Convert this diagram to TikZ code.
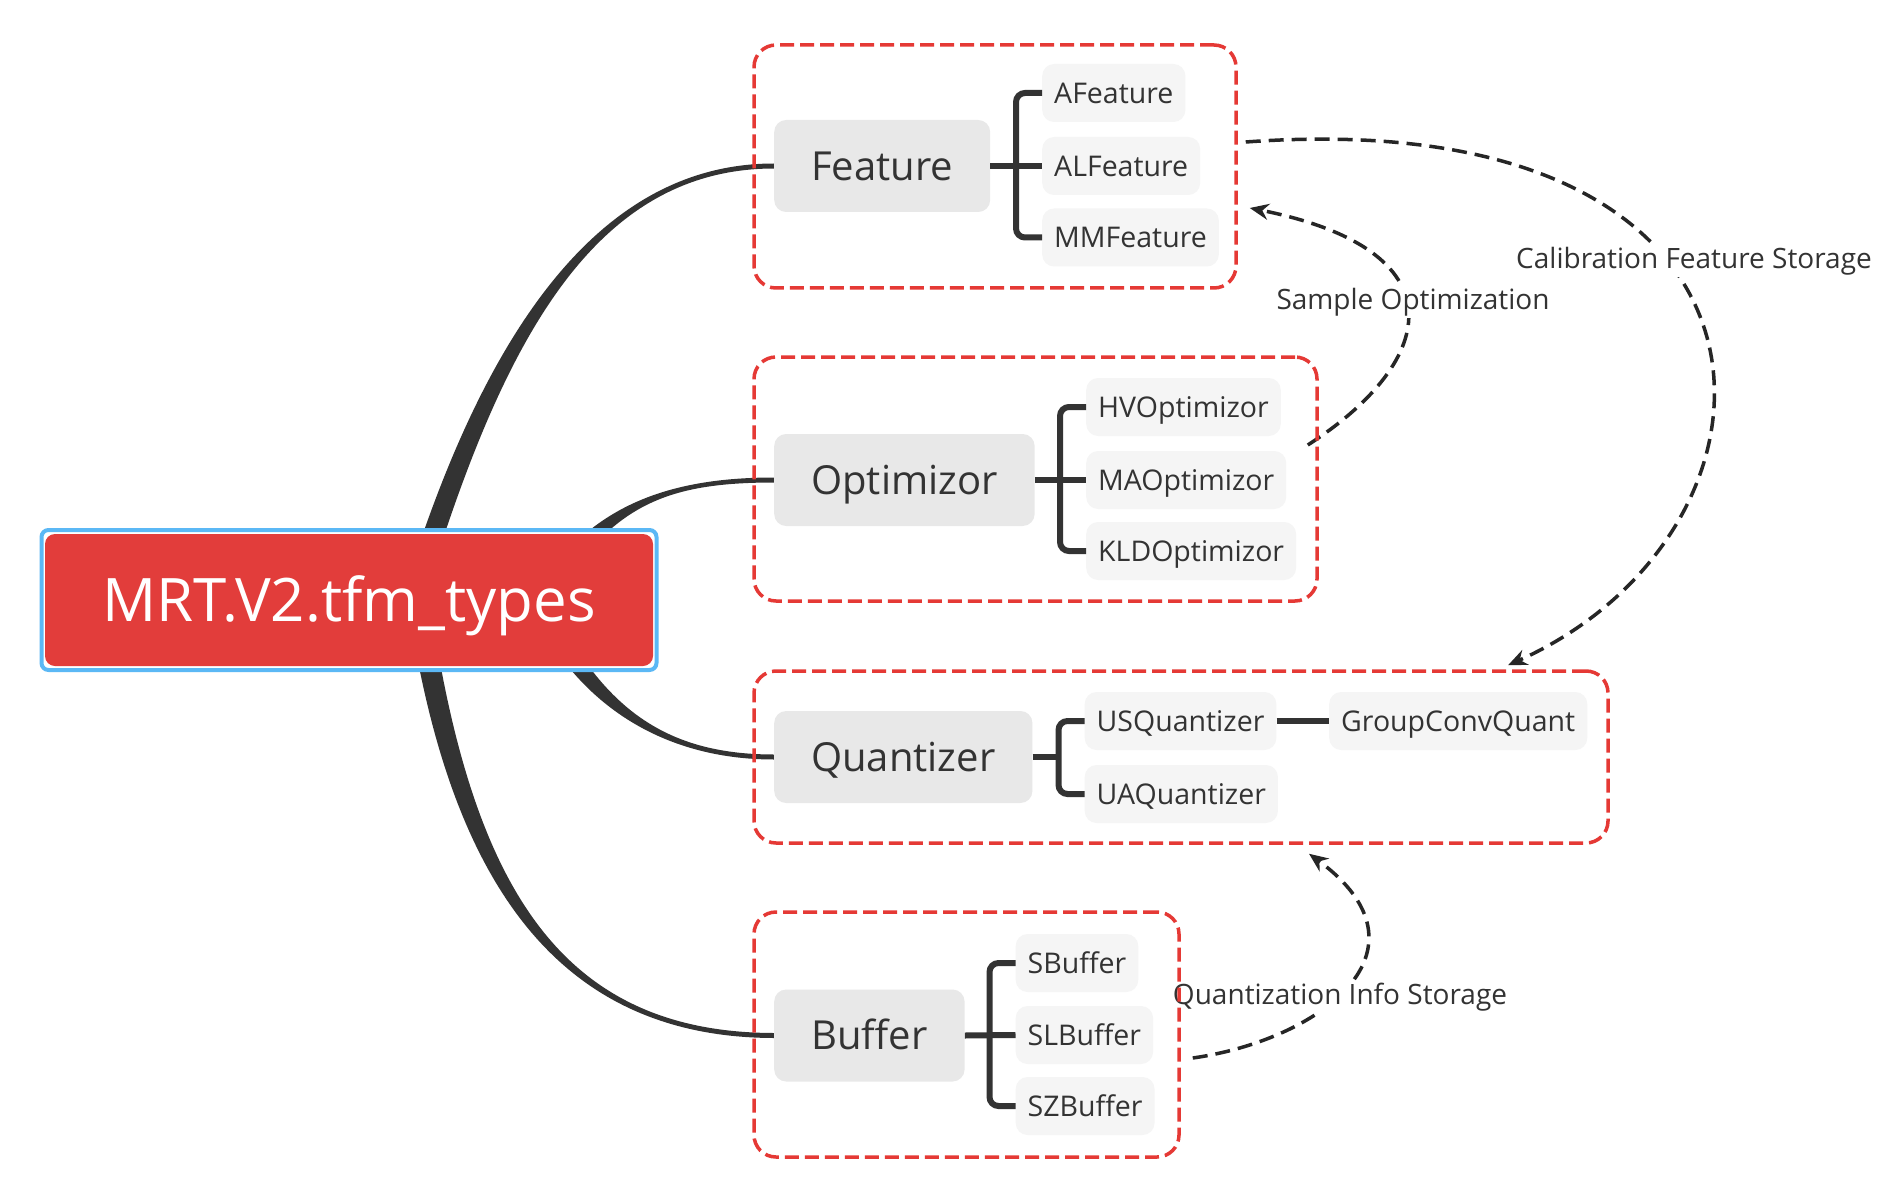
\documentclass[tikz,border=0pt]{standalone}
\usepackage{fontspec}
\setmainfont{Open Sans}
\usetikzlibrary{arrows.meta,calc,backgrounds}

\definecolor{inkgray}{HTML}{333333}
\definecolor{boxred}{HTML}{E53935}
\definecolor{rootred}{HTML}{E23D3B}
\definecolor{frameblue}{HTML}{5BB8F5}
\definecolor{topicgray}{HTML}{E8E8E8}
\definecolor{leafgray}{HTML}{F5F5F5}
\definecolor{linkgray}{HTML}{262626}

\tikzset{
  root/.style={fill=rootred, text=white, rounded corners=10pt, minimum width=608pt,
    minimum height=132pt, text height=43pt, text depth=0pt, font=\fontsize{60}{64}\selectfont},
  rootframe/.style={draw=frameblue, line width=4pt, fill=white, rounded corners=7pt,
    minimum width=615pt, minimum height=140pt},
  topic/.style={fill=topicgray, text=inkgray, rounded corners=12pt, inner xsep=37pt,
    minimum height=92pt, text height=28.5pt, text depth=0pt, anchor=west,
    font=\fontsize{40}{44}\selectfont},
  leaf/.style={fill=leafgray, text=inkgray, rounded corners=12pt, inner xsep=12pt,
    minimum height=58pt, text height=20.3pt, text depth=0pt, anchor=west,
    font=\fontsize{28.5}{32}\selectfont},
  group/.style={draw=boxred, line width=3.5pt, dash pattern=on 14pt off 6pt, rounded corners=22pt},
  twig/.style={draw=inkgray, line width=6pt, rounded corners=9pt},
  trunk/.style={fill=inkgray},
  link/.style={draw=linkgray, line width=3.5pt, dash pattern=on 15pt off 8pt,
    -{Stealth[length=19pt,width=16pt]}},
  linklabel/.style={fill=white, text=inkgray, inner sep=2pt, font=\fontsize{28}{32}\selectfont},
}

% tapered main branch: start, control 1, control 2, target topic, end side
\newcommand{\branch}[5]{%
  \fill[trunk] ($(#1)+(-11,0)$) .. controls ($(#2)+(-10,0)$) and ($(#3)+(0,#5)$) .. ($(#4.west)+(0,#5)$)
    -- ($(#4.west)+(0,{-(#5)})$) .. controls ($(#3)+(0,{-(#5)})$) and ($(#2)+(10,0)$) .. ($(#1)+(11,0)$) -- cycle;}

\begin{document}
\begin{tikzpicture}[x=1pt, y=-1pt]
  \useasboundingbox (0,0) rectangle (1900,1182);

  % groups
  \node[group, minimum width=482pt, minimum height=243pt] (gfeat) at (995,166.5) {};
  \node[group, minimum width=563pt, minimum height=244pt] (gopt) at (1035.5,479) {};
  \node[group, minimum width=854pt, minimum height=172pt] (gquant) at (1181,757) {};
  \node[group, minimum width=425pt, minimum height=245pt] (gbuf) at (966.5,1034.5) {};

  % topics
  \node[topic] (feat) at (774,166) {Feature};
  \node[topic] (opt) at (774,480) {Optimizor};
  \node[topic] (quant) at (774,757) {Quantizer};
  \node[topic] (buf) at (774,1035.5) {Buffer};

  % leaves
  \node[leaf] (afeat) at (1042,93) {AFeature};
  \node[leaf] (alfeat) at (1042,166) {ALFeature};
  \node[leaf] (mmfeat) at (1042,237.5) {MMFeature};

  \node[leaf] (hvopt) at (1086,407) {HVOptimizor};
  \node[leaf] (maopt) at (1086,480) {MAOptimizor};
  \node[leaf] (kldopt) at (1086,551) {KLDOptimizor};

  \node[leaf] (usq) at (1084.5,721) {USQuantizer};
  \node[leaf] (uaq) at (1084.5,794) {UAQuantizer};
  \node[leaf] (gcq) at (1329,721) {GroupConvQuant};

  \node[leaf] (sbuf) at (1015.5,963) {SBuffer};
  \node[leaf] (slbuf) at (1015.5,1035) {SLBuffer};
  \node[leaf] (szbuf) at (1015.5,1106) {SZBuffer};

  % brackets
  \draw[twig] (feat.east) -- (alfeat.west);
  \draw[twig] (afeat.west) -- ++(-26,0) |- (mmfeat.west);
  \draw[twig] (opt.east) -- (maopt.west);
  \draw[twig] (hvopt.west) -- ++(-26,0) |- (kldopt.west);
  \draw[twig] (quant.east) -- ++(28,0);
  \draw[twig] (usq.west) -- ++(-26,0) |- (uaq.west);
  \draw[twig] (usq.east) -- (gcq.west);
  \draw[twig] (buf.east) -- (slbuf.west);
  \draw[twig] (sbuf.west) -- ++(-26,0) |- (szbuf.west);

  % root
  \node[rootframe] (rootbox) at (349,600) {};
  \node[root] (root) at (349,600) {MRT.V2.tfm\_types};

  \begin{scope}[on background layer]
    \fill[white] (0,0) rectangle (1900,1182);
    \branch{425,560}{500,330}{600,166}{feat}{-2.5}
    \branch{570,560}{620,500}{680,480}{opt}{-2.5}
    \branch{560,640}{610,720}{680,757}{quant}{2.5}
    \branch{425,640}{470,900}{570,1035}{buf}{2.5}

    % dashed links
    \draw[link] ([shift={(8,-24.5)}]gfeat.east) .. controls (1820,100) and (1810,530) .. ([shift={(327,-4)}]gquant.north);
    \draw[link] ([shift={(-11,-34)}]gopt.east) .. controls (1440,360) and (1460,250) .. ([shift={(12,41.5)}]gfeat.east);
    \draw[link] ([shift={(12,23.5)}]gbuf.east) .. controls (1320,1040) and (1440,950) .. ([shift={(128,9)}]gquant.south);

    \node[linklabel] (calib) at (1694,261) {Calibration Feature Storage};
    \node[linklabel] (sample) at (1413,302) {Sample Optimization};
    \node[linklabel] (qinfo) at (1340,997) {Quantization Info Storage};
  \end{scope}
\end{tikzpicture}
\end{document}
